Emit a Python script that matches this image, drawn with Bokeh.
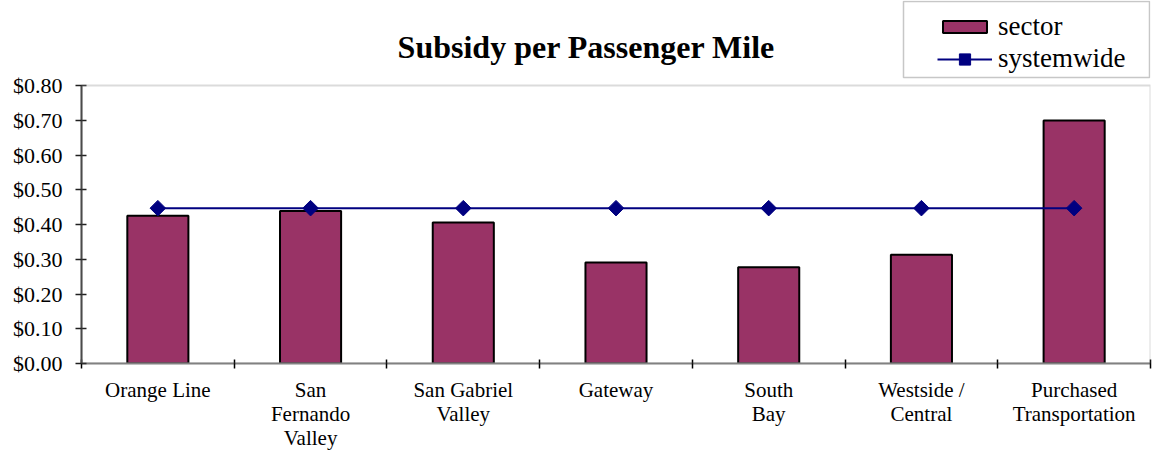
import math
from bokeh.plotting import figure
from bokeh.models import (FactorRange, Range1d, LinearAxis, FixedTicker,
                          NumeralTickFormatter, Legend, LegendItem, Label,
                          BoxAnnotation)
from bokeh.embed import file_html
from bokeh.resources import INLINE

categories = ["Orange Line", "San Fernando Valley", "San Gabriel Valley", "Gateway",
              "South Bay", "Westside / Central", "Purchased Transportation"]
tick_labels = ["Orange Line", "San\nFernando\nValley", "San Gabriel\nValley", "Gateway",
               "South\nBay", "Westside /\nCentral", "Purchased\nTransportation"]
sector = [0.425, 0.439, 0.406, 0.291, 0.277, 0.313, 0.699]
systemwide = [0.447, 0.447, 0.447, 0.447, 0.447, 0.447, 0.447]
y_ticks = [0.0, 0.1, 0.2, 0.3, 0.4, 0.5, 0.6, 0.7, 0.8]
y_max = 0.8

FONT = "Liberation Serif"

W, H = 1157, 453
LEFT, RIGHT_PAD, BOTTOM_PAD = 81, 7, 90
PLOT_TOP = 85                      # pixel row of the $0.80 line
B = H - BOTTOM_PAD                 # pixel row of the frame bottom
y_end = y_max * B / (B - PLOT_TOP) # frame reaches to the canvas top

p = figure(width=W, height=H,
           x_range=FactorRange(factors=categories, range_padding=0),
           y_range=Range1d(0, y_end),
           x_axis_type=None,
           output_backend="svg", toolbar_location=None,
           min_border_left=LEFT, min_border_right=RIGHT_PAD,
           min_border_top=0, min_border_bottom=BOTTOM_PAD)

p.background_fill_color = "white"
p.border_fill_color = "white"
p.outline_line_color = None
p.xgrid.visible = False
p.ygrid.visible = False

# plot-area border (top and right edges show)
p.add_layout(BoxAnnotation(bottom=0, top=y_max, fill_alpha=0,
                           line_color="#888888", line_width=2))

NAVY = "#000080"
bars = p.vbar(x=categories, top=sector, width=0.4,
              fill_color="#993366", line_color="black", line_width=2)
line = p.line(x=categories, y=systemwide, line_color=NAVY, line_width=2)
marks = p.scatter(x=categories, y=systemwide, marker="square", size=11,
                  angle=math.pi / 4, fill_color=NAVY, line_color=NAVY)

# title
p.add_layout(Label(text="Subsidy per Passenger Mile", x=586 - LEFT, y=B - 46,
                   x_units="screen", y_units="screen",
                   text_align="center", text_baseline="middle",
                   text_font=FONT, text_font_size="32px", text_font_style="bold",
                   text_color="black"))

# y axis
ya = p.yaxis[0]
ya.ticker = FixedTicker(ticks=y_ticks)
ya.bounds = (0, y_max)
ya.formatter = NumeralTickFormatter(format="$0.00")
ya.axis_line_color = "#404040"
ya.axis_line_width = 2
ya.major_tick_in = 5
ya.major_tick_out = 6
ya.major_tick_line_color = "#202020"
ya.major_tick_line_width = 1.5
ya.minor_tick_line_color = None
ya.major_label_text_font = FONT
ya.major_label_text_font_size = "22px"
ya.major_label_text_color = "black"
ya.major_label_standoff = 13

# x axis: labels at category centres, ticks at category boundaries
n = len(categories)
centers = [i + 0.5 for i in range(n)]
bounds = [float(i) for i in range(n + 1)]
xa = LinearAxis(ticker=FixedTicker(ticks=centers, minor_ticks=bounds),
                major_label_overrides={c: t for c, t in zip(centers, tick_labels)})
xa.axis_line_color = "#808080"
xa.axis_line_width = 2
xa.major_tick_line_color = None
xa.major_tick_in = 0
xa.major_tick_out = 0
xa.minor_tick_in = 4
xa.minor_tick_out = 5
xa.minor_tick_line_color = "black"
xa.minor_tick_line_width = 1.5
xa.major_label_text_font = FONT
xa.major_label_text_font_size = "21px"
xa.major_label_text_color = "black"
xa.major_label_standoff = 9
xa.major_label_text_line_height = 1.0
p.add_layout(xa, "below")

# legend box and legend entries
p.add_layout(BoxAnnotation(left=903 - LEFT, right=1149 - LEFT,
                           top=B - 1, bottom=B - 77,
                           left_units="screen", right_units="screen",
                           top_units="screen", bottom_units="screen",
                           fill_color="white", fill_alpha=1,
                           line_color="#444444", line_width=1.5))
common = dict(label_text_font=FONT, label_text_font_size="27px",
              label_text_color="black", glyph_width=55, label_standoff=6,
              padding=0, margin=0, spacing=0,
              border_line_color=None, background_fill_alpha=0)
leg1 = Legend(items=[LegendItem(label="sector", renderers=[bars])],
              location=(937 - LEFT, B - 42), glyph_height=15, label_height=30,
              **common)
leg2 = Legend(items=[LegendItem(label="systemwide", renderers=[line, marks])],
              location=(937 - LEFT, B - 74), glyph_height=28, label_height=30,
              **common)
p.add_layout(leg1, "center")
p.add_layout(leg2, "center")

open("out.html", "w").write(file_html(p, INLINE))
